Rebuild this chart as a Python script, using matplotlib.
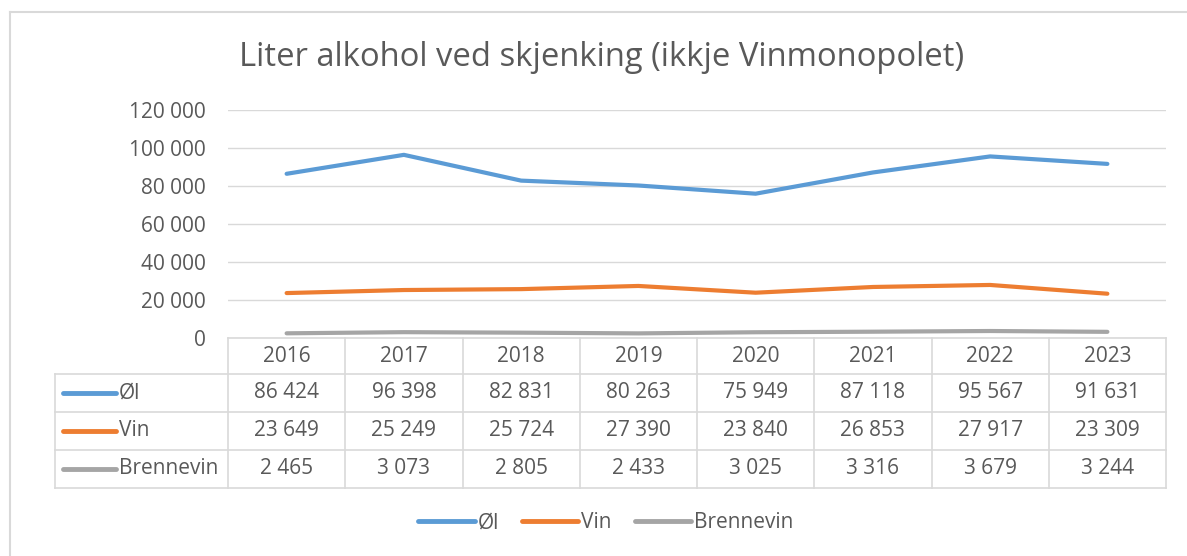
import matplotlib.pyplot as plt
from matplotlib.lines import Line2D
from matplotlib.transforms import blended_transform_factory

years = ["2016", "2017", "2018", "2019", "2020", "2021", "2022", "2023"]
ol = [86424, 96398, 82831, 80263, 75949, 87118, 95567, 91631]
vin = [23649, 25249, 25724, 27390, 23840, 26853, 27917, 23309]
brennevin = [2465, 3073, 2805, 2433, 3025, 3316, 3679, 3244]
serier = ["Øl", "Vin", "Brennevin"]
farger = ["#5B9BD5", "#ED7D31", "#A5A5A5"]
yticks = [0, 20000, 40000, 60000, 80000, 100000, 120000]

W, H = 1187, 556
tekst = "#595959"
rutenett = "#D9D9D9"
plt.rcParams["font.family"] = ["Open Sans", "DejaVu Sans"]
fs = 15

def fmt(v):
    return f"{v:,}".replace(",", " ")

fig = plt.figure(figsize=(W / 100, H / 100), dpi=100)
# ramme rundt diagrammet (bare topp og venstre synlig)
fig.add_artist(Line2D([10 / W, 10 / W], [0, 1 - 12 / H], color=rutenett, lw=1.5))
fig.add_artist(Line2D([10 / W, 1], [1 - 12 / H, 1 - 12 / H], color=rutenett, lw=1.5))

x0, x1 = 228, 1166
yb, yt = 338, 110
ax = fig.add_axes([x0 / W, 1 - yb / H, (x1 - x0) / W, (yb - yt) / H])

x = list(range(len(years)))
for data, navn, farge in zip([ol, vin, brennevin], serier, farger):
    ax.plot(x, data, color=farge, lw=3, solid_capstyle="round", label=navn)

ax.set_xlim(-0.5, len(years) - 0.5)
ax.set_ylim(0, 120000)
ax.set_yticks(yticks)
ax.set_yticklabels([fmt(v) for v in yticks], color=tekst, fontsize=fs)
ax.tick_params(axis="y", length=0, pad=16)
ax.set_xticks([])
ax.grid(axis="y", color=rutenett, lw=1)
ax.set_axisbelow(True)
for s in ax.spines.values():
    s.set_visible(False)

fig.text(602 / W, 1 - 57 / H, "Liter alkohol ved skjenking (ikkje Vinmonopolet)",
         ha="center", va="center", fontsize=23.6, color=tekst)

# datatabell under aksen
tr = blended_transform_factory(ax.transData, fig.transFigure)
rader = [338, 374, 412, 450, 488]
fy = lambda p: 1 - p / H
xl = -0.5 - (x0 - 55) / ((x1 - x0) / len(years))
for i, r in enumerate(rader):
    start = -0.5 if i == 0 else xl
    ax.add_line(Line2D([start, len(years) - 0.5], [fy(r), fy(r)], transform=tr,
                       color=rutenett, lw=1.2, clip_on=False))
for k in range(len(years) + 1):
    ax.add_line(Line2D([k - 0.5, k - 0.5], [fy(338), fy(488)], transform=tr,
                       color=rutenett, lw=1.2, clip_on=False))
ax.add_line(Line2D([xl, xl], [fy(374), fy(488)], transform=tr,
                   color=rutenett, lw=1.2, clip_on=False))

for k, aar in enumerate(years):
    ax.text(k, fy(356), aar, transform=tr, ha="center", va="center",
            fontsize=fs, color=tekst)
for j, (data, navn, farge) in enumerate(zip([ol, vin, brennevin], serier, farger)):
    ym = fy((rader[j + 1] + rader[j + 2]) / 2)
    fig.add_artist(Line2D([63 / W, 116 / W], [ym, ym], color=farge, lw=3.5,
                          solid_capstyle="round"))
    fig.text(119 / W, ym, navn, ha="left", va="center", fontsize=fs, color=tekst)
    for k, v in enumerate(data):
        ax.text(k, ym, fmt(v), transform=tr, ha="center", va="center",
                fontsize=fs, color=tekst)

leg = fig.legend(loc="center", bbox_to_anchor=(606 / W, 1 - 523 / H), ncol=3,
                 frameon=False, fontsize=fs, handlelength=2.7, handletextpad=0.15,
                 columnspacing=1.1, labelcolor=tekst)
for h in leg.get_lines():
    h.set_linewidth(3.5)
    h.set_solid_capstyle("round")

fig.savefig("out.png", dpi=100)
